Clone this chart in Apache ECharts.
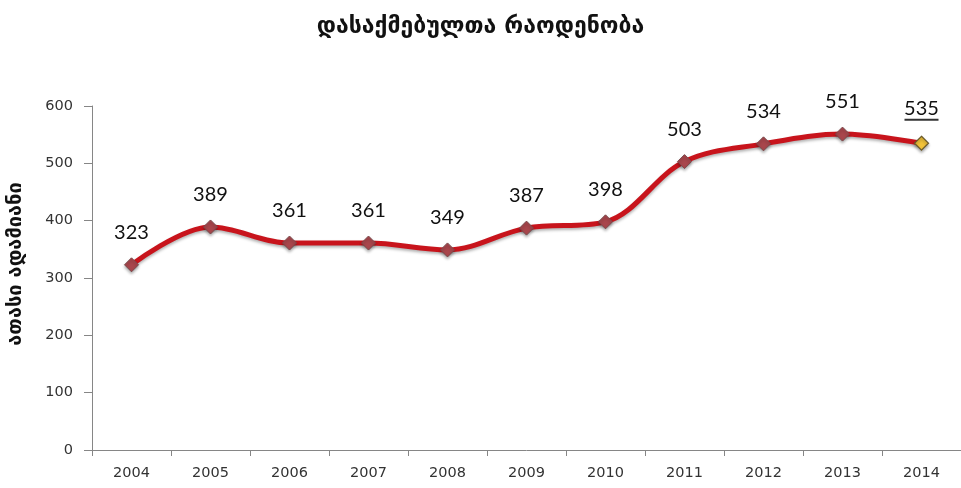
<!DOCTYPE html>
<html>
<head>
<meta charset="utf-8">
<script src="https://cdn.jsdelivr.net/npm/echarts@6/dist/echarts.min.js"></script>
<style>html,body{margin:0;padding:0;background:#fff;}#chart{width:961px;height:488px;}</style>
</head>
<body>
<div id="chart"></div>
<script>
const titleText = 'დასაქმებულთა რაოდენობა';
const yAxisName = 'ათასი ადამიანი';
const years = ['2004','2005','2006','2007','2008','2009','2010','2011','2012','2013','2014'];
const employed = [323, 389, 361, 361, 349, 387, 398, 503, 534, 551, 535];
const yTicks = [0, 100, 200, 300, 400, 500, 600];

const labelFont = 'Lato, Open Sans, sans-serif';
const lastIdx = employed.length - 1;
const seriesData = employed.map((v, i) => {
  if (i === lastIdx) {
    return {
      value: v,
      itemStyle: { color: '#f2c33a', borderColor: '#6b5a2a', borderWidth: 1.2 },
      label: {
        formatter: '{a|{c}}\n{u| }',
        rich: {
          a: { fontSize: 20, color: '#111', fontFamily: labelFont, lineHeight: 21 },
          u: { width: 34, height: 2, lineHeight: 2, fontSize: 1, backgroundColor: '#333' }
        }
      }
    };
  }
  return v;
});

const chart = echarts.init(document.getElementById('chart'));
chart.setOption({
  animation: false,
  backgroundColor: '#fff',
  title: {
    text: titleText,
    left: 'center',
    top: 11,
    textStyle: { fontFamily: 'DejaVu Sans', fontSize: 23, fontWeight: 'bold', color: '#111' }
  },
  grid: { left: 92, right: 0, top: 106, bottom: 38, containLabel: false, outerBoundsMode: 'none' },
  xAxis: {
    type: 'category',
    data: years,
    boundaryGap: true,
    axisLine: { lineStyle: { color: '#868686', width: 1 } },
    axisTick: { show: true, length: 6, lineStyle: { color: '#868686' } },
    axisLabel: { color: '#333', fontSize: 14.5, fontFamily: 'DejaVu Sans', margin: 16 }
  },
  yAxis: {
    type: 'value',
    min: yTicks[0],
    max: yTicks[yTicks.length - 1],
    interval: 100,
    name: yAxisName,
    nameLocation: 'middle',
    nameRotate: 90,
    nameGap: 66,
    nameTextStyle: { fontFamily: 'DejaVu Sans', fontSize: 20, fontWeight: 'bold', color: '#111', padding: [0, 0, 0, 28] },
    axisLine: { show: true, lineStyle: { color: '#868686', width: 1 } },
    axisTick: { show: true, length: 8, lineStyle: { color: '#868686' } },
    splitLine: { show: false },
    axisLabel: { color: '#333', fontSize: 14.5, fontFamily: 'DejaVu Sans', margin: 19 }
  },
  series: [{
    type: 'line',
    data: seriesData,
    smooth: 0.35,
    symbol: 'diamond',
    symbolSize: 14,
    lineStyle: { color: '#c8141c', width: 5, shadowColor: 'rgba(0,0,0,0.3)', shadowBlur: 3, shadowOffsetY: 2 },
    itemStyle: { color: '#a8464c', borderColor: '#7a4a4c', borderWidth: 1, shadowColor: 'rgba(0,0,0,0.3)', shadowBlur: 3, shadowOffsetY: 2 },
    label: {
      show: true,
      position: 'top',
      distance: 15,
      fontSize: 20,
      color: '#111',
      fontFamily: labelFont
    },
    z: 3
  }]
});
</script>
</body>
</html>
